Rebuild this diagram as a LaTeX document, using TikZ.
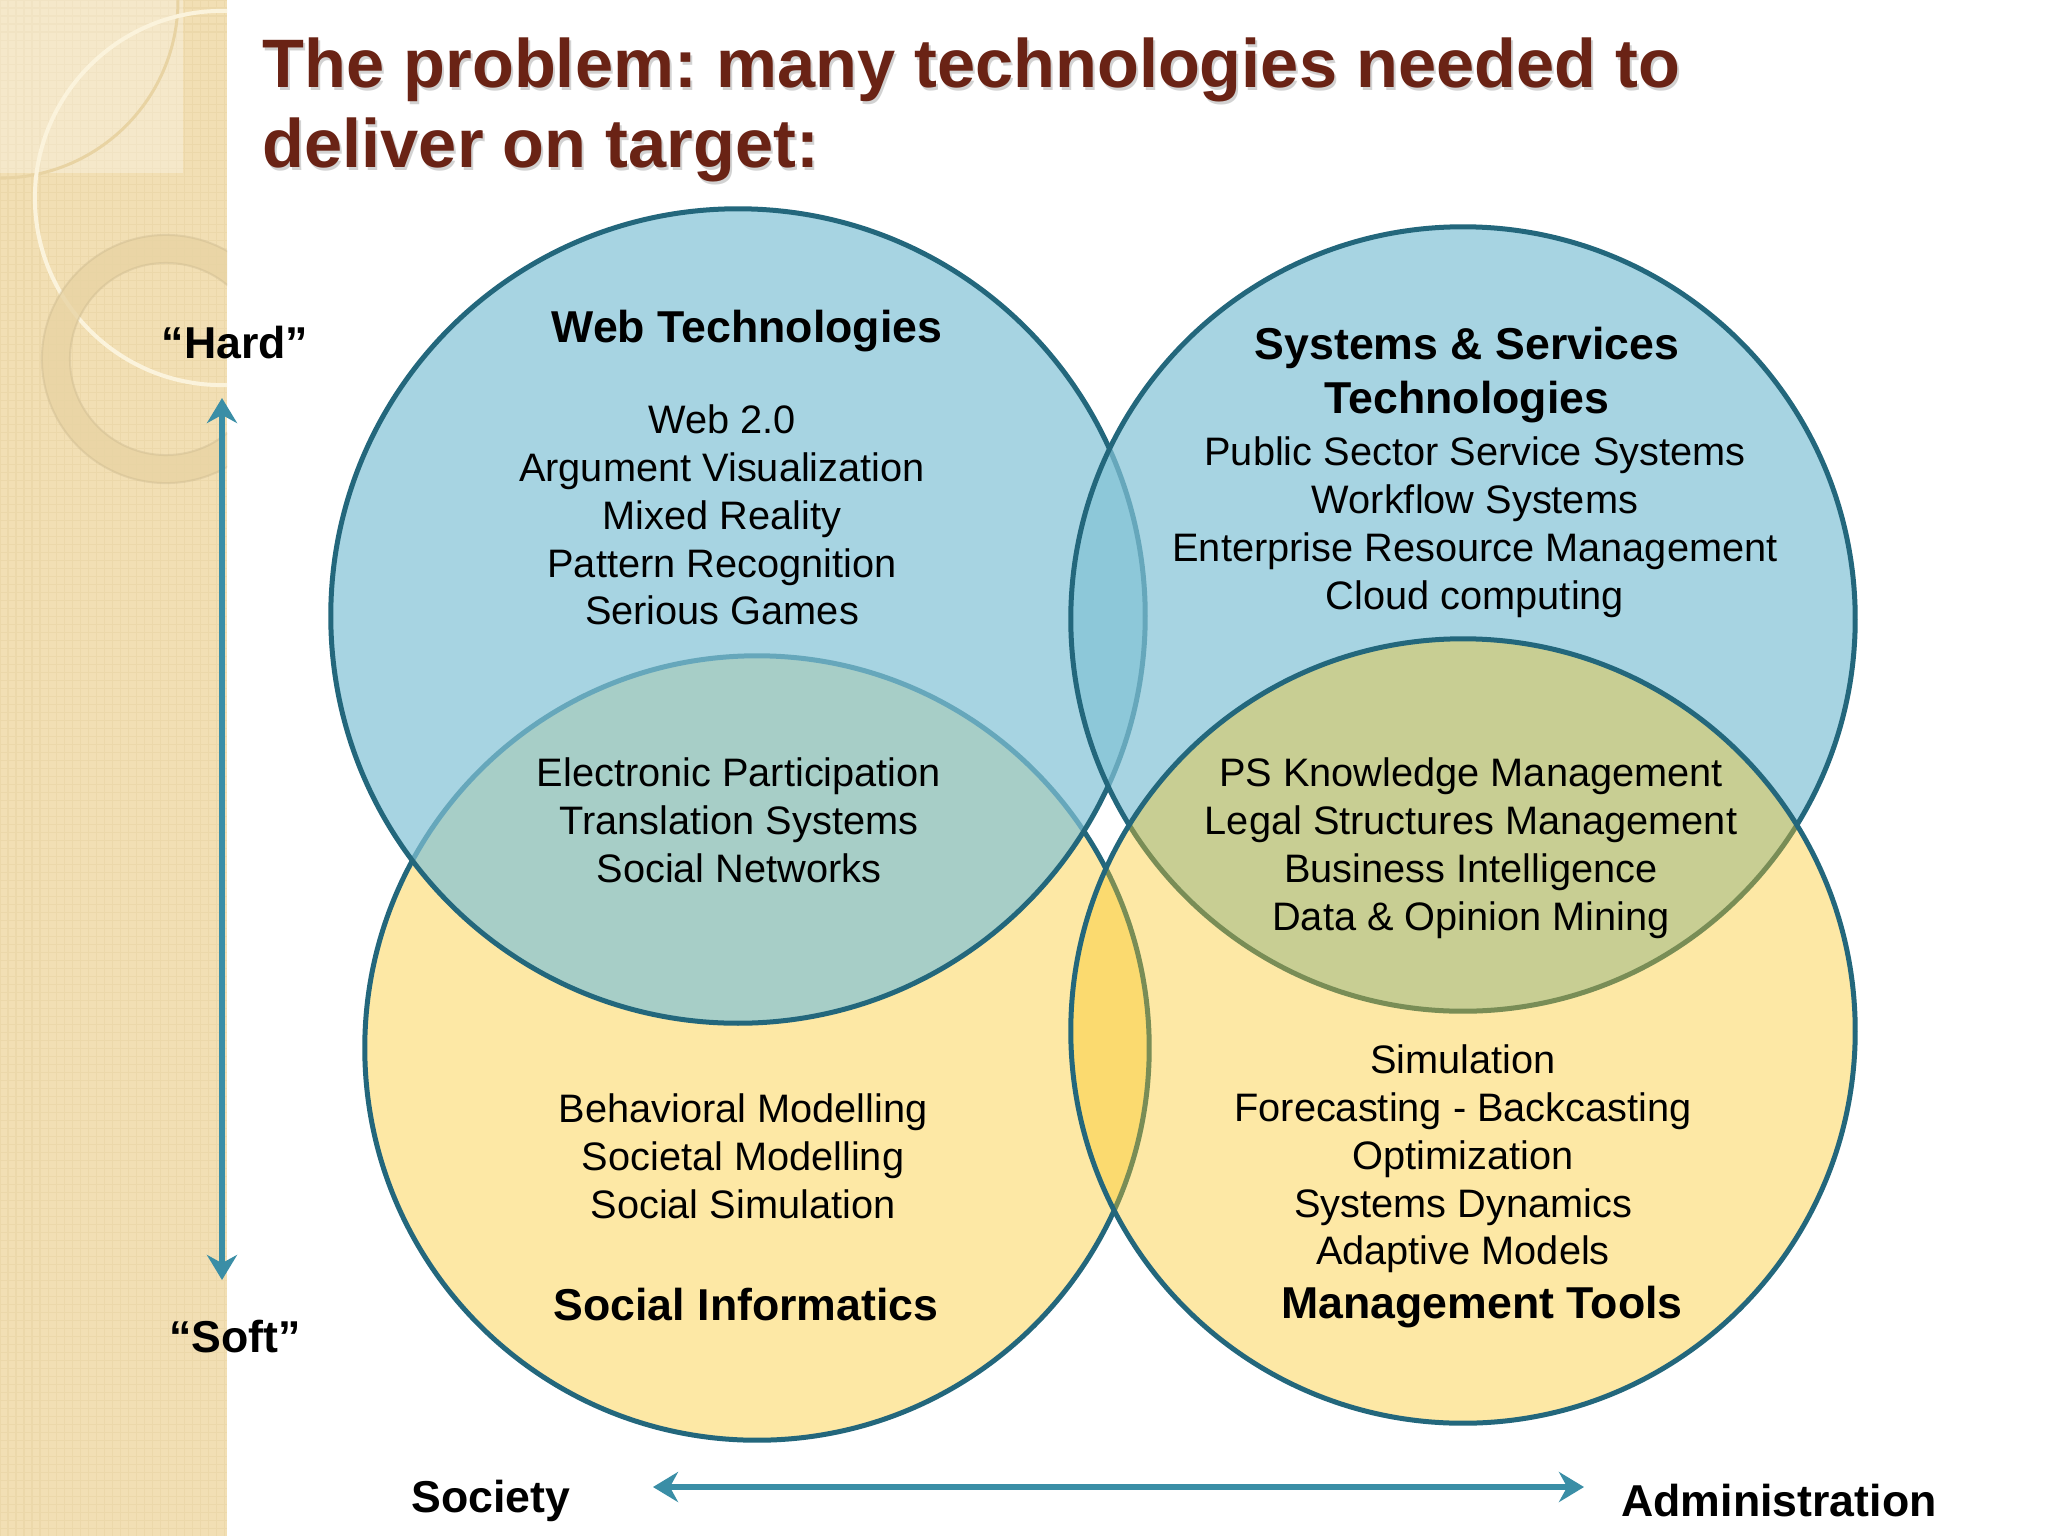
\documentclass[tikz,border=0pt]{standalone}
\usepackage{fontspec}
\setmainfont{Liberation Sans}
\usetikzlibrary{arrows.meta}
\frenchspacing

\definecolor{ringline}{HTML}{23677C}
\definecolor{bluefill}{HTML}{83C3D6}
\definecolor{yellowfill}{HTML}{FAC61E}
\definecolor{arrowteal}{HTML}{3A8EA6}
\definecolor{titlebrown}{HTML}{6A2315}
\definecolor{panelbeige}{HTML}{F2DFB4}
\definecolor{paneldark}{HTML}{E8D3A3}
\definecolor{panelcream}{HTML}{FBF3DC}

\tikzset{
  venn/.style={circle, draw=ringline, line width=0.05cm, inner sep=0pt, minimum size=7.84cm},
  bluevenn/.style={venn, fill=bluefill, fill opacity=0.7},
  yellowvenn/.style={venn, fill=yellowfill, fill opacity=0.4},
  itemtext/.style={align=center, font=\fontsize{11.3}{13.6}\selectfont},
  headtext/.style={align=center, font=\fontsize{12.7}{15.4}\selectfont\bfseries},
  titletext/.style={anchor=base west, inner sep=0pt, font=\fontsize{19.5}{22.7}\selectfont\bfseries},
  axisarrow/.style={draw=arrowteal, line width=0.06cm,
    {Stealth[length=0.25cm,width=0.3cm]}-{Stealth[length=0.25cm,width=0.3cm]}},
}

\begin{document}
\begin{tikzpicture}[x=0.01cm, y=-0.01cm]
    \useasboundingbox (0,0) rectangle (2048,1536);
    \fill[white] (0,0) rectangle (2048,1536);

    % side panel
    \begin{scope}
        \clip (0,0) rectangle (227,1536);
        \fill[panelbeige] (0,0) rectangle (227,1536);
        \draw[paneldark!60!panelbeige, line width=0.3pt, step=0.08cm] (0,0) grid (227,1536);
        \fill[white, opacity=0.3] (0,0) rectangle (183,173);
        \draw[paneldark, line width=0.03cm] (178,0) arc[start angle=0, end angle=-90, radius=1.78cm];
        \draw[panelcream, line width=0.04cm] (222,198) circle[radius=1.87cm];
        \fill[paneldark, opacity=0.8, even odd rule] (166,359) circle[radius=1.24cm] (166,359) circle[radius=0.96cm];
        \draw[paneldark!85!black, opacity=0.35, line width=0.02cm] (166,359) circle[radius=1.24cm];
        \draw[paneldark!85!black, opacity=0.35, line width=0.02cm] (166,359) circle[radius=0.96cm];
    \end{scope}

    % title
    \node[titletext, gray, opacity=0.35] at (264,90) {The problem: many technologies needed to};
    \node[titletext, gray, opacity=0.35] at (264,170) {deliver on target:};
    \node[titletext, titlebrown] (title1) at (262,87) {The problem: many technologies needed to};
    \node[titletext, titlebrown] (title2) at (262,167) {deliver on target:};

    % circles
    \node[yellowvenn] (social) at (757,1048) {};
    \node[bluevenn, minimum size=8.14cm] (web) at (738,616) {};
    \node[bluevenn] (systems) at (1463,619) {};
    \node[yellowvenn] (mgmt) at (1463,1031) {};

    % circle texts
    \node[headtext] (webhead) at (747,331) {Web Technologies};
    \node[itemtext] (webitems) at (722,515) {Web 2.0\\Argument Visualization\\Mixed Reality\\Pattern Recognition\\Serious Games};

    \node[headtext] (syshead) at (1467,375) {Systems \& Services\\Technologies};
    \node[itemtext] (sysitems) at (1475,527) {Public Sector Service Systems\\Workflow Systems\\Enterprise Resource Management\\Cloud computing};

    \node[itemtext] (leftlens) at (739,820) {Electronic Participation\\Translation Systems\\Social Networks};
    \node[itemtext] (rightlens) at (1471,848) {PS Knowledge Management\\Legal Structures Management\\Business Intelligence\\Data \& Opinion Mining};

    \node[itemtext] (socitems) at (743,1156) {Behavioral Modelling\\Societal Modelling\\Social Simulation};
    \node[headtext] (sochead) at (746,1305) {Social Informatics};

    \node[itemtext] (mgmtitems) at (1463,1159) {Simulation\\Forecasting - Backcasting\\Optimization\\Systems Dynamics\\Adaptive Models};
    \node[headtext] (mgmthead) at (1482,1307) {Management Tools};

    % axes
    \node[headtext] (hard) at (235,343) {“Hard”};
    \node[headtext] (soft) at (235,1337) {“Soft”};
    \node[headtext] (society) at (491,1501) {Society};
    \node[headtext] (admin) at (1779,1501) {Administration};

    \coordinate (hardtip) at (222,398);
    \coordinate (softtip) at (222,1280);
    \coordinate (socttip) at (653,1487);
    \coordinate (admintip) at (1584,1487);

    \draw[axisarrow] (hardtip) -- (softtip);
    \draw[axisarrow] (socttip) -- (admintip);
\end{tikzpicture}
\end{document}
